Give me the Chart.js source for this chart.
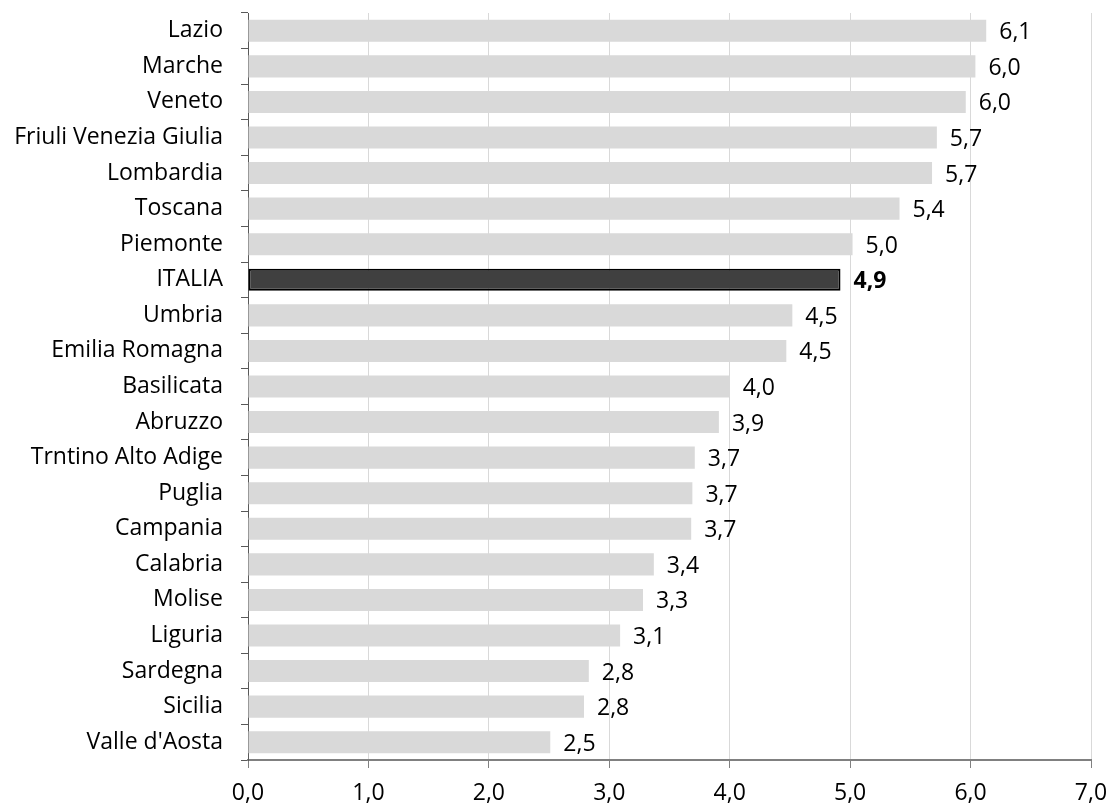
<!DOCTYPE html>
<html>
<head>
<meta charset="utf-8">
<script src="https://cdn.jsdelivr.net/npm/chart.js@4.4.0/dist/chart.umd.min.js"></script>
<style>
  html, body { margin: 0; padding: 0; background: #fff; }
  #wrap { width: 1110px; height: 805px; }
</style>
</head>
<body>
<div id="wrap"><canvas id="myChart"></canvas></div>
<script>
'use strict';
// dati
const regioni = ['Lazio', 'Marche', 'Veneto', 'Friuli Venezia Giulia', 'Lombardia', 'Toscana', 'Piemonte',
    'ITALIA', 'Umbria', 'Emilia Romagna', 'Basilicata', 'Abruzzo', 'Trntino Alto Adige', 'Puglia',
    'Campania', 'Calabria', 'Molise', 'Liguria', 'Sardegna', 'Sicilia', "Valle d'Aosta"];
const valori = [6.13, 6.04, 5.96, 5.72, 5.68, 5.41, 5.02, 4.92, 4.52, 4.47, 4.0, 3.91, 3.71, 3.69,
    3.68, 3.37, 3.28, 3.09, 2.83, 2.79, 2.51];
const xTicks = [0, 1, 2, 3, 4, 5, 6, 7];

const FONT = '"Open Sans", Lato, sans-serif';
const SIZE = 23;
const fmt = v => v.toFixed(1).replace('.', ',');
const isItalia = r => r === 'ITALIA';

// etichette dei valori
const etichette = {
    id: 'etichette',
    afterDatasetsDraw(chart) {
        const ctx = chart.ctx;
        const meta = chart.getDatasetMeta(0);
        ctx.save();
        ctx.fillStyle = '#000';
        ctx.textBaseline = 'middle';
        ctx.textAlign = 'left';
        meta.data.forEach((bar, i) => {
            ctx.font = (isItalia(regioni[i]) ? 'bold ' : '') + SIZE + 'px ' + FONT;
            ctx.fillText(fmt(valori[i]), bar.x + 13, bar.y + 2);
        });
        ctx.restore();
    }
};

const ctx = document.getElementById('myChart');
const myChart = new Chart(ctx.getContext('2d'), {
    type: 'bar',
    data: {
        labels: regioni,
        datasets: [{
            data: valori,
            backgroundColor: regioni.map(r => isItalia(r) ? '#404040' : '#d9d9d9'),
            borderColor: regioni.map(r => isItalia(r) ? '#000' : '#d9d9d9'),
            borderWidth: regioni.map(r => isItalia(r) ? 2 : 0),
            borderSkipped: false,
            categoryPercentage: 1,
            barPercentage: 0.62
        }]
    },
    options: {
        indexAxis: 'y',
        responsive: true,
        maintainAspectRatio: false,
        animation: false,
        layout: { padding: { top: 13, right: 19, left: 0, bottom: 0 } },
        plugins: {
            legend: { display: false },
            tooltip: { enabled: false }
        },
        scales: {
            x: {
                min: 0,
                max: 7,
                afterBuildTicks: scale => { scale.ticks = xTicks.map(v => ({ value: v })); },
                afterFit: scale => {
                    scale.height = 45;
                    scale.paddingLeft = 0;
                    scale.paddingRight = 0;
                },
                ticks: {
                    callback: v => fmt(v),
                    color: '#000',
                    font: { family: FONT, size: SIZE },
                    padding: 12,
                    maxRotation: 0
                },
                grid: {
                    color: '#d9d9d9',
                    tickColor: '#808080',
                    tickLength: 8,
                    lineWidth: 1
                },
                border: { color: '#808080', width: 2 }
            },
            y: {
                afterFit: scale => {
                    scale.width = 248;
                    scale.paddingTop = 0;
                    scale.paddingBottom = 0;
                },
                ticks: {
                    color: '#000',
                    font: { family: FONT, size: SIZE },
                    padding: 18,
                    autoSkip: false
                },
                grid: {
                    offset: true,
                    drawOnChartArea: false,
                    tickColor: '#595959',
                    tickLength: 7
                },
                border: { color: '#595959', width: 1 }
            }
        }
    },
    plugins: [etichette]
});
</script>
</body>
</html>
